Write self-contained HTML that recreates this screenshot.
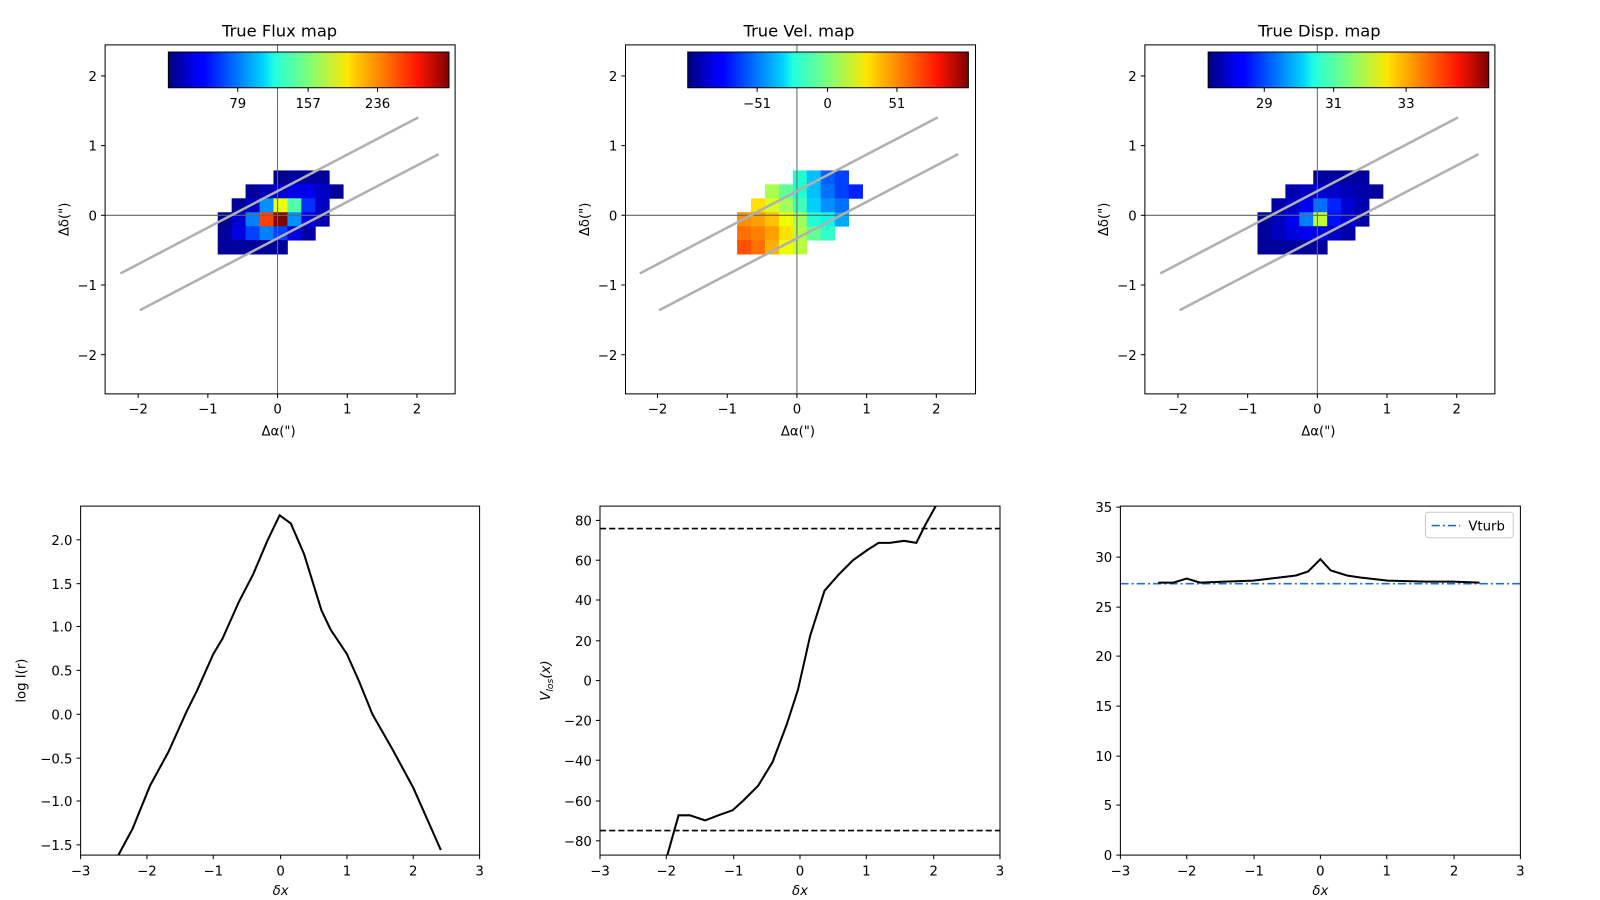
<!DOCTYPE html>
<html><head><meta charset="utf-8"><style>
body{margin:0;background:#fff}
svg{display:block}
text{font-family:"DejaVu Sans","Liberation Sans",sans-serif;font-size:13px;fill:#000}
.t{font-size:16px}
</style></head><body>
<svg width="1600" height="900" viewBox="0 0 1600 900" xmlns="http://www.w3.org/2000/svg">
<defs>
<linearGradient id="jet" x1="0" x2="1" y1="0" y2="0">
<stop offset="0" stop-color="#000080"/><stop offset="0.11" stop-color="#0000ff"/>
<stop offset="0.125" stop-color="#0000ff"/><stop offset="0.34" stop-color="#00d4ff"/>
<stop offset="0.375" stop-color="#1fffe0"/><stop offset="0.5" stop-color="#7dff7a"/>
<stop offset="0.64" stop-color="#ffe600"/><stop offset="0.66" stop-color="#ffd000"/>
<stop offset="0.89" stop-color="#ff1400"/><stop offset="1" stop-color="#800000"/>
</linearGradient>
</defs>
<g transform="scale(1.0204)">
<g id="maps"></g>
<script>
(function(){
const NS="http://www.w3.org/2000/svg";
const root=document.getElementById('maps');
function el(t,a,txt){const e=document.createElementNS(NS,t);for(const k in a)e.setAttribute(k,a[k]);if(txt!==undefined)e.textContent=txt;root.appendChild(e);return e;}
const starts=[4,2,1,0,0,0];
const flux=[
["#00008f","#0000a0","#0000a0","#0000a0"],
["#00009a","#0000b5","#0000d0","#0000e8","#0000f0","#0000c8","#00009a"],
["#00009a","#0000c0","#0090ff","#e8ff10","#50ffa8","#0030ff","#0000c8"],
["#00008f","#0000d0","#0080ff","#ff4000","#800000","#0090ff","#0000e8","#0000b0"],
["#00009a","#0000e0","#0040ff","#0080ff","#0040ff","#0000e0","#0000a8"],
["#00009a","#00009a","#00009a","#00009a","#00009a"]];
const vel=[
["#20ffd0","#00c0ff","#0060ff","#0040ff"],
["#a8ff50","#60ff98","#20ffd0","#00c0ff","#0070ff","#0040ff","#0020ff"],
["#ffe000","#d8ff20","#a0ff58","#40ffb8","#00d0ff","#0090ff","#0070ff"],
["#ff9000","#ffa000","#ffc000","#f0ff00","#a0ff58","#20ffd8","#10f8e8","#00a8ff"],
["#ff7000","#ff8000","#ffa000","#ffe000","#b0ff48","#60ff98","#30ffc8"],
["#ff5000","#ff7000","#ffb000","#f0ff00","#b8ff40"]];
const disp=[
["#0000a0","#0000a0","#0000a0","#0000a0"],
["#0000b0","#0000c0","#0000d8","#0000c8","#0000b8","#0000a8","#00009a"],
["#0000a8","#0000c8","#0000f0","#0070ff","#0020ff","#0000d0","#0000b0"],
["#00009a","#0000c0","#0000f0","#0080ff","#c0ff30","#0010ff","#0000d0","#0000a8"],
["#00009a","#0000c0","#0000e0","#0000f0","#0000e8","#0000c0","#0000a8"],
["#00009a","#00009a","#00009a","#00009a","#00009a"]];
const panels=[{x0:272,L:103,data:flux,title:"True Flux map",cb:["79","157","236"],off:[68,137,205]},
{x0:781,L:613,data:vel,title:"True Vel. map",cb:["\u221251","0","51"],off:[68,137,205]},
{x0:1291,L:1122,data:disp,title:"True Disp. map",cb:["29","31","33"],off:[55,123,194]}];
const s=68.3, c=13.66;
panels.forEach(p=>{
 const R=p.L+343;
 p.data.forEach((row,r)=>{row.forEach((col,i)=>{const k=starts[r]+i;
  el('rect',{x:(p.x0-4+(k-4)*c).toFixed(2),y:(208+(r-3)*c).toFixed(2),width:c+0.4,height:c+0.4,fill:col});});});
 el('line',{x1:p.x0,x2:p.x0,y1:44,y2:386,stroke:'#666','stroke-width':1});
 el('line',{x1:p.L,x2:R,y1:211,y2:211,stroke:'#666','stroke-width':1});
 const dx=p.x0-272;
 el('line',{x1:118+dx,y1:268,x2:410+dx,y2:115,stroke:'#b0b0b0','stroke-width':2.5});
 el('line',{x1:137+dx,y1:304,x2:430+dx,y2:151,stroke:'#b0b0b0','stroke-width':2.5});
 el('rect',{x:p.L,y:44,width:343,height:342,fill:'none',stroke:'#000','stroke-width':1});
 [-2,-1,0,1,2].forEach(v=>{const x=p.x0+v*s;
  el('line',{x1:x,x2:x,y1:386,y2:390,stroke:'#000'});
  el('text',{x:x,y:405,'text-anchor':'middle'},v<0?'\u2212'+(-v):''+v);
  const y=211-v*s;
  el('line',{x1:p.L-4,x2:p.L,y1:y,y2:y,stroke:'#000'});
  el('text',{x:p.L-8,y:y+5,'text-anchor':'end'},v<0?'\u2212'+(-v):''+v);});
 el('text',{x:p.x0+1,y:427,'text-anchor':'middle'},'\u0394\u03b1(")');
 el('text',{x:0,y:0,'text-anchor':'middle',transform:`translate(${p.L-36},${215}) rotate(-90)`},'\u0394\u03b4(")');
 el('text',{x:p.x0+2,y:36,'text-anchor':'middle','class':'t'},p.title);
 const cbL=p.x0-107;
 el('rect',{x:cbL,y:51,width:275,height:35,fill:'url(#jet)',stroke:'#000','stroke-width':1});
 p.off.forEach((o,i)=>{el('line',{x1:cbL+o,x2:cbL+o,y1:86,y2:90,stroke:'#000'});
  el('text',{x:cbL+o,y:106,'text-anchor':'middle'},p.cb[i]);});
});
})();
</script>

<g>
<rect x="79" y="496" width="391" height="342" fill="none" stroke="#000"/>
<polyline fill="none" stroke="#000" stroke-width="2" points="116,838 130,812 147,770 165,737 183,697 193,677 209,641 218,626 234,590 248,563 262,530 274,505 285,513 298,543 315,598 324,617 340,641 352,668 365,700 385,735 405,772 432,833"/>
<g stroke="#000">
<line x1="79" x2="79" y1="838" y2="842"/><line x1="144" x2="144" y1="838" y2="842"/><line x1="209" x2="209" y1="838" y2="842"/><line x1="275" x2="275" y1="838" y2="842"/><line x1="340" x2="340" y1="838" y2="842"/><line x1="405" x2="405" y1="838" y2="842"/><line x1="470" x2="470" y1="838" y2="842"/>
<line x1="75" x2="79" y1="529" y2="529"/><line x1="75" x2="79" y1="572" y2="572"/><line x1="75" x2="79" y1="614" y2="614"/><line x1="75" x2="79" y1="657" y2="657"/><line x1="75" x2="79" y1="700" y2="700"/><line x1="75" x2="79" y1="743" y2="743"/><line x1="75" x2="79" y1="785" y2="785"/><line x1="75" x2="79" y1="828" y2="828"/>
</g>
<g text-anchor="middle"><text x="79" y="858">−3</text><text x="144" y="858">−2</text><text x="209" y="858">−1</text><text x="275" y="858">0</text><text x="340" y="858">1</text><text x="405" y="858">2</text><text x="470" y="858">3</text></g>
<g text-anchor="end"><text x="71" y="534">2.0</text><text x="71" y="577">1.5</text><text x="71" y="619">1.0</text><text x="71" y="662">0.5</text><text x="71" y="705">0.0</text><text x="71" y="748">−0.5</text><text x="71" y="790">−1.0</text><text x="71" y="833">−1.5</text></g>
<text x="275" y="877" text-anchor="middle" font-style="italic">δx</text>
<text transform="translate(25,667) rotate(-90)" text-anchor="middle">log I(r)</text>
</g>

<g>
<line x1="588" x2="980" y1="518" y2="518" stroke="#000" stroke-width="1.6" stroke-dasharray="6,3"/>
<line x1="588" x2="980" y1="814" y2="814" stroke="#000" stroke-width="1.6" stroke-dasharray="6,3"/>
<polyline fill="none" stroke="#000" stroke-width="2" points="654,838 665,799 676,799 691,804 704,799 718,794 728,785 743,770 757,747 771,710 782,676 794,623 808,579 822,563 836,549 850,539 861,532 872,532 886,530 898,532 907,514 917,496"/>
<rect x="588" y="496" width="392" height="342" fill="none" stroke="#000"/>
<g stroke="#000">
<line x1="588" x2="588" y1="838" y2="842"/><line x1="653" x2="653" y1="838" y2="842"/><line x1="719" x2="719" y1="838" y2="842"/><line x1="784" x2="784" y1="838" y2="842"/><line x1="849" x2="849" y1="838" y2="842"/><line x1="915" x2="915" y1="838" y2="842"/><line x1="980" x2="980" y1="838" y2="842"/>
<line x1="584" x2="588" y1="510" y2="510"/><line x1="584" x2="588" y1="549" y2="549"/><line x1="584" x2="588" y1="588" y2="588"/><line x1="584" x2="588" y1="628" y2="628"/><line x1="584" x2="588" y1="667" y2="667"/><line x1="584" x2="588" y1="706" y2="706"/><line x1="584" x2="588" y1="745" y2="745"/><line x1="584" x2="588" y1="785" y2="785"/><line x1="584" x2="588" y1="824" y2="824"/>
</g>
<g text-anchor="middle"><text x="588" y="858">−3</text><text x="653" y="858">−2</text><text x="719" y="858">−1</text><text x="784" y="858">0</text><text x="849" y="858">1</text><text x="915" y="858">2</text><text x="980" y="858">3</text></g>
<g text-anchor="end"><text x="580" y="515">80</text><text x="580" y="554">60</text><text x="580" y="593">40</text><text x="580" y="633">20</text><text x="580" y="672">0</text><text x="580" y="711">−20</text><text x="580" y="750">−40</text><text x="580" y="790">−60</text><text x="580" y="829">−80</text></g>
<text x="784" y="877" text-anchor="middle" font-style="italic">δx</text>
<text transform="translate(539,667) rotate(-90)" text-anchor="middle"><tspan font-style="italic">V</tspan><tspan font-size="9" font-style="italic" dy="3">los</tspan><tspan dy="-3" font-style="italic">(x)</tspan></text>
</g>

<g>
<line x1="1098" x2="1490" y1="572" y2="572" stroke="#1f6fcf" stroke-width="1.6" stroke-dasharray="8,3,2,3"/>
<polyline fill="none" stroke="#000" stroke-width="2" points="1135,571 1150,571 1163,567 1176,571 1200,570 1228,569 1254,566 1270,564 1282,560 1294,548 1304,559 1320,564 1333,566 1360,569 1398,570 1424,570 1450,571"/>
<rect x="1098" y="496" width="392" height="342" fill="none" stroke="#000"/>
<rect x="1397" y="502" width="86" height="25" rx="3" fill="#fff" stroke="#ccc"/>
<line x1="1403" x2="1431" y1="515" y2="515" stroke="#1f6fcf" stroke-width="1.6" stroke-dasharray="8,3,2,3"/>
<text x="1439" y="520">Vturb</text>
<g stroke="#000">
<line x1="1098" x2="1098" y1="838" y2="842"/><line x1="1163" x2="1163" y1="838" y2="842"/><line x1="1229" x2="1229" y1="838" y2="842"/><line x1="1294" x2="1294" y1="838" y2="842"/><line x1="1359" x2="1359" y1="838" y2="842"/><line x1="1425" x2="1425" y1="838" y2="842"/><line x1="1490" x2="1490" y1="838" y2="842"/>
<line x1="1094" x2="1098" y1="838" y2="838"/><line x1="1094" x2="1098" y1="789" y2="789"/><line x1="1094" x2="1098" y1="741" y2="741"/><line x1="1094" x2="1098" y1="692" y2="692"/><line x1="1094" x2="1098" y1="643" y2="643"/><line x1="1094" x2="1098" y1="595" y2="595"/><line x1="1094" x2="1098" y1="546" y2="546"/><line x1="1094" x2="1098" y1="497" y2="497"/>
</g>
<g text-anchor="middle"><text x="1098" y="858">−3</text><text x="1163" y="858">−2</text><text x="1229" y="858">−1</text><text x="1294" y="858">0</text><text x="1359" y="858">1</text><text x="1425" y="858">2</text><text x="1490" y="858">3</text></g>
<g text-anchor="end"><text x="1090" y="843">0</text><text x="1090" y="794">5</text><text x="1090" y="746">10</text><text x="1090" y="697">15</text><text x="1090" y="648">20</text><text x="1090" y="600">25</text><text x="1090" y="551">30</text><text x="1090" y="502">35</text></g>
<text x="1294" y="877" text-anchor="middle" font-style="italic">δx</text>
</g>
</g>
</svg>
</body></html>
